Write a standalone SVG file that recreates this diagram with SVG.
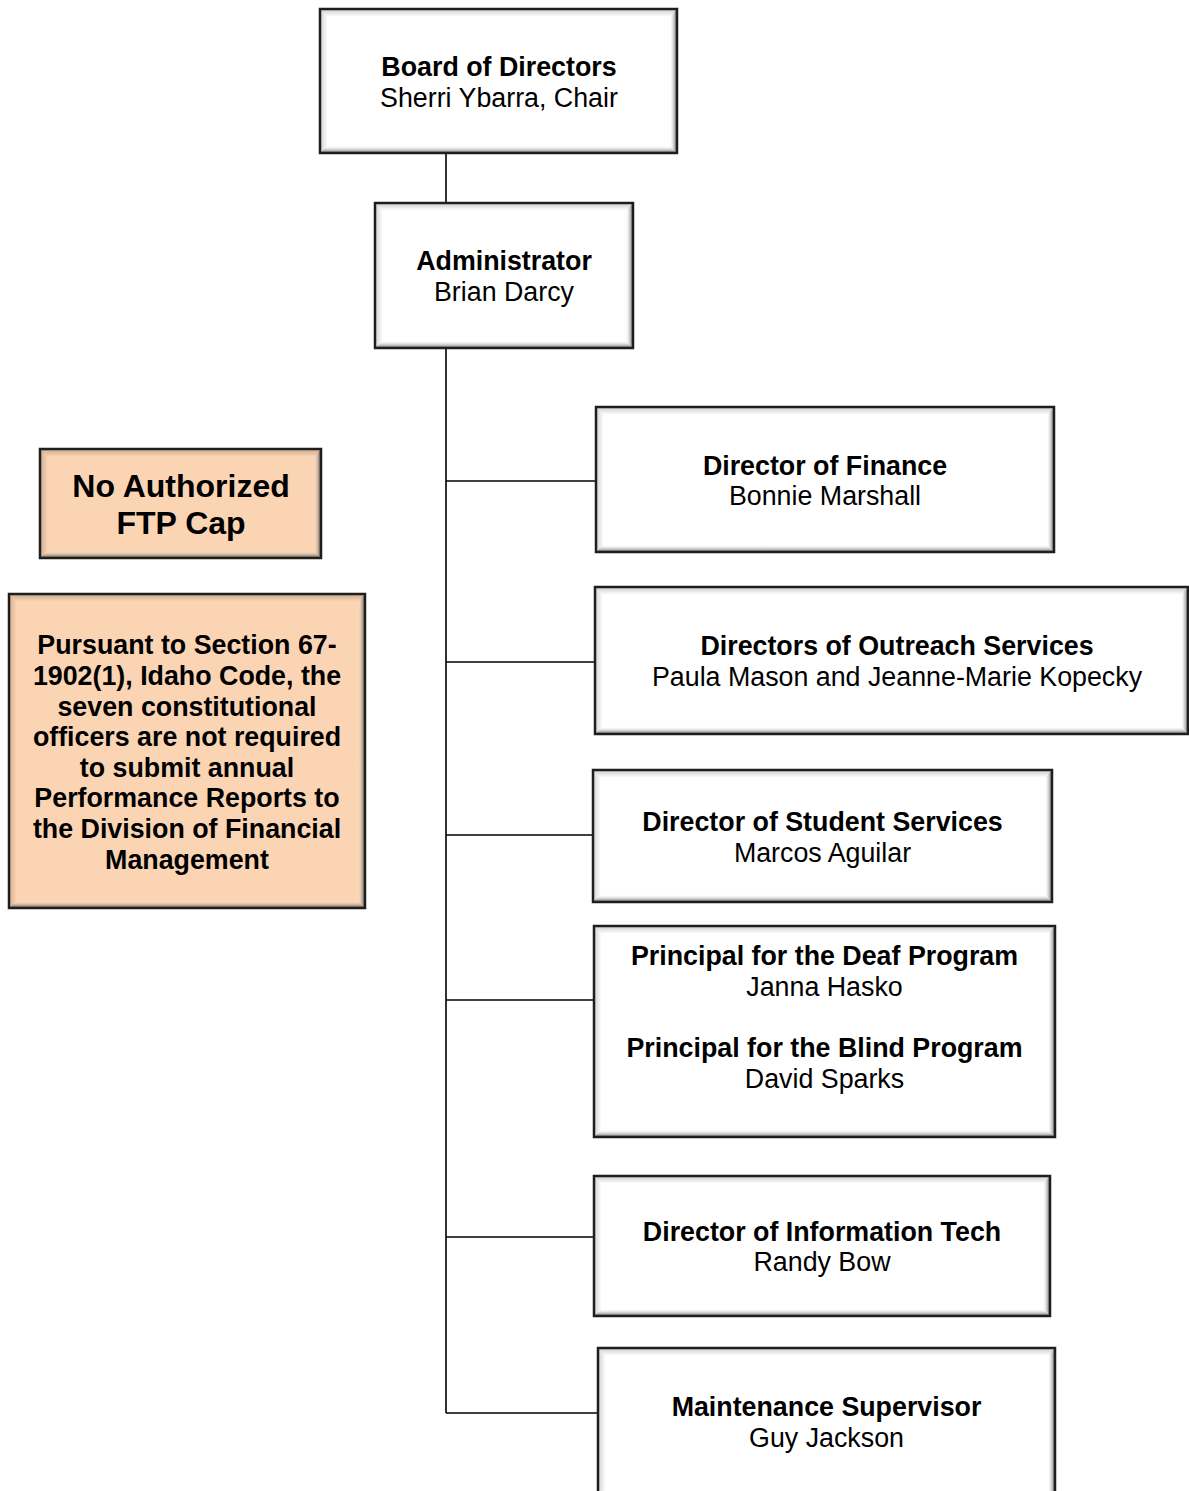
<svg xmlns="http://www.w3.org/2000/svg" width="1189" height="1491" viewBox="0 0 1189 1491">
<defs>
<linearGradient id="gR" x1="0" y1="0" x2="1" y2="0"><stop offset="0" stop-color="#fff" stop-opacity="0.1"/><stop offset="1" stop-color="#000" stop-opacity="0.62"/></linearGradient>
<linearGradient id="gB" x1="0" y1="0" x2="0" y2="1"><stop offset="0" stop-color="#fff" stop-opacity="0.1"/><stop offset="1" stop-color="#000" stop-opacity="0.62"/></linearGradient>
<linearGradient id="gT" x1="0" y1="0" x2="0" y2="1"><stop offset="0" stop-color="#000" stop-opacity="0.2"/><stop offset="1" stop-color="#000" stop-opacity="0.02"/></linearGradient>
<linearGradient id="gL" x1="0" y1="0" x2="1" y2="0"><stop offset="0" stop-color="#000" stop-opacity="0.18"/><stop offset="1" stop-color="#000" stop-opacity="0.02"/></linearGradient>
</defs>
<style>
.w{fill:#ffffff}
.p{fill:#fbd4b4}
.bt{fill:url(#gT)}
.bl{fill:url(#gL)}
.br{fill:url(#gR)}
.bb{fill:url(#gB)}
.fr{fill:none;stroke:#1e1e1e;stroke-width:2.5}
.t{font-family:"Liberation Sans",Arial,sans-serif;font-size:26.8px;text-anchor:middle;fill:#000}
.b{font-weight:bold}
.big{font-size:32px}
.ln{stroke:#000;stroke-width:1.6;fill:none}
</style>
<g id="connectors">
<line class="ln" x1="446" y1="153" x2="446" y2="203"/>
<line class="ln" x1="446" y1="348" x2="446" y2="1413"/>
<line class="ln" x1="446" y1="481" x2="596" y2="481"/>
<line class="ln" x1="446" y1="662" x2="595" y2="662"/>
<line class="ln" x1="446" y1="835" x2="593" y2="835"/>
<line class="ln" x1="446" y1="1000" x2="594" y2="1000"/>
<line class="ln" x1="446" y1="1237" x2="594" y2="1237"/>
<line class="ln" x1="446" y1="1413" x2="598" y2="1413"/>
</g>
<g id="board">
<rect class="w" x="320" y="9" width="357" height="144"/>
<polygon class="bt" points="320,9 677,9 670,16 327,16"/>
<polygon class="bl" points="320,9 327,16 327,146 320,153"/>
<polygon class="br" points="677,9 677,153 670,146 670,16"/>
<polygon class="bb" points="320,153 677,153 670,146 327,146"/>
<rect class="fr" x="320" y="9" width="357" height="144"/>
<text class="t b" x="499" y="76">Board of Directors</text>
<text class="t" x="499" y="107">Sherri Ybarra, Chair</text>
</g>
<g id="admin">
<rect class="w" x="375" y="203" width="258" height="145"/>
<polygon class="bt" points="375,203 633,203 626,210 382,210"/>
<polygon class="bl" points="375,203 382,210 382,341 375,348"/>
<polygon class="br" points="633,203 633,348 626,341 626,210"/>
<polygon class="bb" points="375,348 633,348 626,341 382,341"/>
<rect class="fr" x="375" y="203" width="258" height="145"/>
<text class="t b" x="504" y="270">Administrator</text>
<text class="t" x="504" y="301">Brian Darcy</text>
</g>
<g id="finance">
<rect class="w" x="596" y="407" width="458" height="145"/>
<polygon class="bt" points="596,407 1054,407 1047,414 603,414"/>
<polygon class="bl" points="596,407 603,414 603,545 596,552"/>
<polygon class="br" points="1054,407 1054,552 1047,545 1047,414"/>
<polygon class="bb" points="596,552 1054,552 1047,545 603,545"/>
<rect class="fr" x="596" y="407" width="458" height="145"/>
<text class="t b" x="825" y="475">Director of Finance</text>
<text class="t" x="825" y="505">Bonnie Marshall</text>
</g>
<g id="outreach">
<rect class="w" x="595" y="587" width="593" height="147"/>
<polygon class="bt" points="595,587 1188,587 1181,594 602,594"/>
<polygon class="bl" points="595,587 602,594 602,727 595,734"/>
<polygon class="br" points="1188,587 1188,734 1181,727 1181,594"/>
<polygon class="bb" points="595,734 1188,734 1181,727 602,727"/>
<rect class="fr" x="595" y="587" width="593" height="147"/>
<text class="t b" x="897" y="655">Directors of Outreach Services</text>
<text class="t" x="897" y="686">Paula Mason and Jeanne-Marie Kopecky</text>
</g>
<g id="student">
<rect class="w" x="593" y="770" width="459" height="132"/>
<polygon class="bt" points="593,770 1052,770 1045,777 600,777"/>
<polygon class="bl" points="593,770 600,777 600,895 593,902"/>
<polygon class="br" points="1052,770 1052,902 1045,895 1045,777"/>
<polygon class="bb" points="593,902 1052,902 1045,895 600,895"/>
<rect class="fr" x="593" y="770" width="459" height="132"/>
<text class="t b" x="822.5" y="831">Director of Student Services</text>
<text class="t" x="822.5" y="862">Marcos Aguilar</text>
</g>
<g id="principals">
<rect class="w" x="594" y="926" width="461" height="211"/>
<polygon class="bt" points="594,926 1055,926 1048,933 601,933"/>
<polygon class="bl" points="594,926 601,933 601,1130 594,1137"/>
<polygon class="br" points="1055,926 1055,1137 1048,1130 1048,933"/>
<polygon class="bb" points="594,1137 1055,1137 1048,1130 601,1130"/>
<rect class="fr" x="594" y="926" width="461" height="211"/>
<text class="t b" x="824.5" y="965">Principal for the Deaf Program</text>
<text class="t" x="824.5" y="996">Janna Hasko</text>
<text class="t b" x="824.5" y="1057">Principal for the Blind Program</text>
<text class="t" x="824.5" y="1088">David Sparks</text>
</g>
<g id="it">
<rect class="w" x="594" y="1176" width="456" height="140"/>
<polygon class="bt" points="594,1176 1050,1176 1043,1183 601,1183"/>
<polygon class="bl" points="594,1176 601,1183 601,1309 594,1316"/>
<polygon class="br" points="1050,1176 1050,1316 1043,1309 1043,1183"/>
<polygon class="bb" points="594,1316 1050,1316 1043,1309 601,1309"/>
<rect class="fr" x="594" y="1176" width="456" height="140"/>
<text class="t b" x="822" y="1241">Director of Information Tech</text>
<text class="t" x="822" y="1271">Randy Bow</text>
</g>
<g id="maintenance">
<rect class="w" x="598" y="1348" width="457" height="152"/>
<polygon class="bt" points="598,1348 1055,1348 1048,1355 605,1355"/>
<polygon class="bl" points="598,1348 605,1355 605,1493 598,1500"/>
<polygon class="br" points="1055,1348 1055,1500 1048,1493 1048,1355"/>
<rect class="fr" x="598" y="1348" width="457" height="152"/>
<text class="t b" x="826.5" y="1416">Maintenance Supervisor</text>
<text class="t" x="826.5" y="1447">Guy Jackson</text>
</g>
<g id="ftp-cap">
<rect class="p" x="40" y="449" width="281" height="109"/>
<polygon class="bt" points="40,449 321,449 314,456 47,456"/>
<polygon class="bl" points="40,449 47,456 47,551 40,558"/>
<polygon class="br" points="321,449 321,558 314,551 314,456"/>
<polygon class="bb" points="40,558 321,558 314,551 47,551"/>
<rect class="fr" x="40" y="449" width="281" height="109"/>
<text class="t b big" x="181" y="497">No Authorized</text>
<text class="t b big" x="181" y="534">FTP Cap</text>
</g>
<g id="note">
<rect class="p" x="9" y="594" width="356" height="314"/>
<polygon class="bt" points="9,594 365,594 358,601 16,601"/>
<polygon class="bl" points="9,594 16,601 16,901 9,908"/>
<polygon class="br" points="365,594 365,908 358,901 358,601"/>
<polygon class="bb" points="9,908 365,908 358,901 16,901"/>
<rect class="fr" x="9" y="594" width="356" height="314"/>
<text class="t b" x="187" y="654">Pursuant to Section 67-</text>
<text class="t b" x="187" y="685">1902(1), Idaho Code, the</text>
<text class="t b" x="187" y="716">seven constitutional</text>
<text class="t b" x="187" y="746">officers are not required</text>
<text class="t b" x="187" y="777">to submit annual</text>
<text class="t b" x="187" y="807">Performance Reports to</text>
<text class="t b" x="187" y="838">the Division of Financial</text>
<text class="t b" x="187" y="869">Management</text>
</g>
</svg>
